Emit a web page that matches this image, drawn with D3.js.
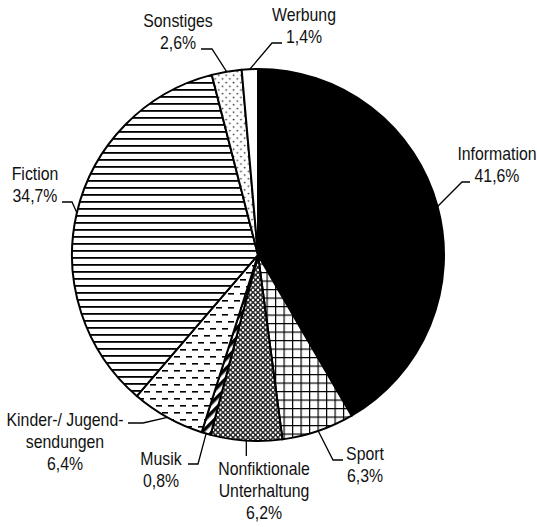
<!DOCTYPE html>
<html>
<head>
<meta charset="utf-8">
<script src="https://cdn.jsdelivr.net/npm/d3@7"></script>
<style>
  html, body { margin: 0; padding: 0; background: #fff; }
  svg { display: block; }
  .lbl { font-family: 'Liberation Sans', Arial, sans-serif; font-size: 18px; fill: #111; }
</style>
</head>
<body>
<div id="chart"></div>
<script>
'use strict'

/****** DATA ******/

const categories = ['Information', 'Sport', 'Nonfiktionale Unterhaltung', 'Musik',
                    'Kinder-/ Jugendsendungen', 'Fiction', 'Sonstiges', 'Werbung']
const shares = [41.6, 6.3, 6.2, 0.8, 6.4, 34.7, 2.6, 1.4] // percent
const labelLines = [['Information'], ['Sport'], ['Nonfiktionale', 'Unterhaltung'], ['Musik'],
                    ['Kinder-/ Jugend-', 'sendungen'], ['Fiction'], ['Sonstiges'], ['Werbung']]
const fills = ['#000', 'url(#p-grid)', 'url(#p-diamond)', 'url(#p-diag)',
               'url(#p-dash)', 'url(#p-hlines)', 'url(#p-dots)', '#fff']

// label placement: text centre / first baseline, leader elbow and end
const labelLayout = [
  {x: 497, y: 160, elbow: [462, 182], end: [470, 182]},
  {x: 365, y: 460, elbow: [333, 460], end: [343, 460]},
  {x: 264, y: 475, elbow: null,       end: [null, 456]},
  {x: 161, y: 465, elbow: [198, 464], end: [188, 464]},
  {x: 65,  y: 426, elbow: [143, 423], end: [128, 423]},
  {x: 35,  y: 180, elbow: [72, 202],  end: [62, 202]},
  {x: 178, y: 27,  elbow: [212, 49],  end: [201, 49]},
  {x: 304, y: 21,  elbow: [272, 43],  end: [282, 43]}
]

/****** SETUP ******/

const width = 537, height = 527
const cx = 258, cy = 255, radius = 186
const lineH = 22
const pctFormat = v => d3.format('.1f')(v).replace('.', ',') + '%'

const svg = d3.select('#chart').append('svg')
  .attr('width', width)
  .attr('height', height)

// PATTERNS
const defs = svg.append('defs')

const grid = defs.append('pattern').attr('id', 'p-grid')
  .attr('patternUnits', 'userSpaceOnUse').attr('width', 8.5).attr('height', 8.5)
grid.append('rect').attr('width', 8.5).attr('height', 8.5).attr('fill', '#fff')
grid.append('rect').attr('width', 1.2).attr('height', 8.5).attr('fill', '#000')
grid.append('rect').attr('width', 8.5).attr('height', 1.2).attr('fill', '#000')

const diamond = defs.append('pattern').attr('id', 'p-diamond')
  .attr('patternUnits', 'userSpaceOnUse').attr('width', 5).attr('height', 5)
diamond.append('rect').attr('width', 5).attr('height', 5).attr('fill', '#2a2a2a')
;[[0, 0], [5, 0], [0, 5], [5, 5], [2.5, 2.5]].forEach(([x, y]) => {
  diamond.append('circle').attr('cx', x).attr('cy', y).attr('r', 1.15).attr('fill', '#fff')
})

const diag = defs.append('pattern').attr('id', 'p-diag')
  .attr('patternUnits', 'userSpaceOnUse').attr('width', 7).attr('height', 7)
  .attr('patternTransform', 'rotate(45)')
diag.append('rect').attr('width', 7).attr('height', 7).attr('fill', '#fff')
diag.append('rect').attr('width', 3.5).attr('height', 7).attr('fill', '#000')

const dash = defs.append('pattern').attr('id', 'p-dash')
  .attr('patternUnits', 'userSpaceOnUse').attr('width', 12).attr('height', 14)
dash.append('rect').attr('width', 12).attr('height', 14).attr('fill', '#fff')
dash.append('rect').attr('x', 0).attr('y', 3).attr('width', 6).attr('height', 1.6).attr('fill', '#000')
dash.append('rect').attr('x', 6).attr('y', 10).attr('width', 6).attr('height', 1.6).attr('fill', '#000')

const hlines = defs.append('pattern').attr('id', 'p-hlines')
  .attr('patternUnits', 'userSpaceOnUse').attr('width', 7).attr('height', 7)
hlines.append('rect').attr('width', 7).attr('height', 7).attr('fill', '#fff')
hlines.append('rect').attr('y', 2).attr('width', 7).attr('height', 1.8).attr('fill', '#000')

const dots = defs.append('pattern').attr('id', 'p-dots')
  .attr('patternUnits', 'userSpaceOnUse').attr('width', 7.4).attr('height', 7.4)
dots.append('rect').attr('width', 7.4).attr('height', 7.4).attr('fill', '#fff')
dots.append('circle').attr('cx', 1.5).attr('cy', 1.5).attr('r', 0.9).attr('fill', '#333')
dots.append('circle').attr('cx', 5.2).attr('cy', 5.2).attr('r', 0.9).attr('fill', '#333')

/****** PIE ******/

const pie = d3.pie().sort(null).value(d => d)
const arcs = pie(shares)

const arc = d3.arc().innerRadius(0).outerRadius(radius)
const edge = d3.arc().innerRadius(radius).outerRadius(radius)

const g = svg.append('g').attr('transform', `translate(${cx},${cy})`)

g.selectAll('path.slice')
  .data(arcs)
  .join('path')
    .attr('class', 'slice')
    .attr('d', arc)
    .attr('fill', (d, i) => fills[i])
    .attr('stroke', '#000')
    .attr('stroke-width', 2)
    .attr('stroke-linejoin', 'round')

/****** LABELS ******/

const leader = d3.line()

arcs.forEach((d, i) => {
  const lay = labelLayout[i]
  const [ax, ay] = edge.centroid(d)
  const anchor = [cx + ax, cy + ay]
  const pts = [anchor]
  if (lay.elbow) pts.push(lay.elbow)
  pts.push([lay.end[0] === null ? anchor[0] : lay.end[0], lay.end[1]])

  svg.append('path')
    .attr('d', leader(pts))
    .attr('fill', 'none')
    .attr('stroke', '#000')
    .attr('stroke-width', 1.3)

  const lines = labelLines[i].concat([pctFormat(shares[i])])
  const txt = svg.append('text')
    .attr('class', 'lbl')
    .attr('text-anchor', 'middle')
    .attr('transform', `translate(${lay.x},${lay.y}) scale(0.88,1)`)
  lines.forEach((s, k) => {
    txt.append('tspan').attr('x', 0).attr('y', k * lineH).text(s)
  })
})
</script>
</body>
</html>
